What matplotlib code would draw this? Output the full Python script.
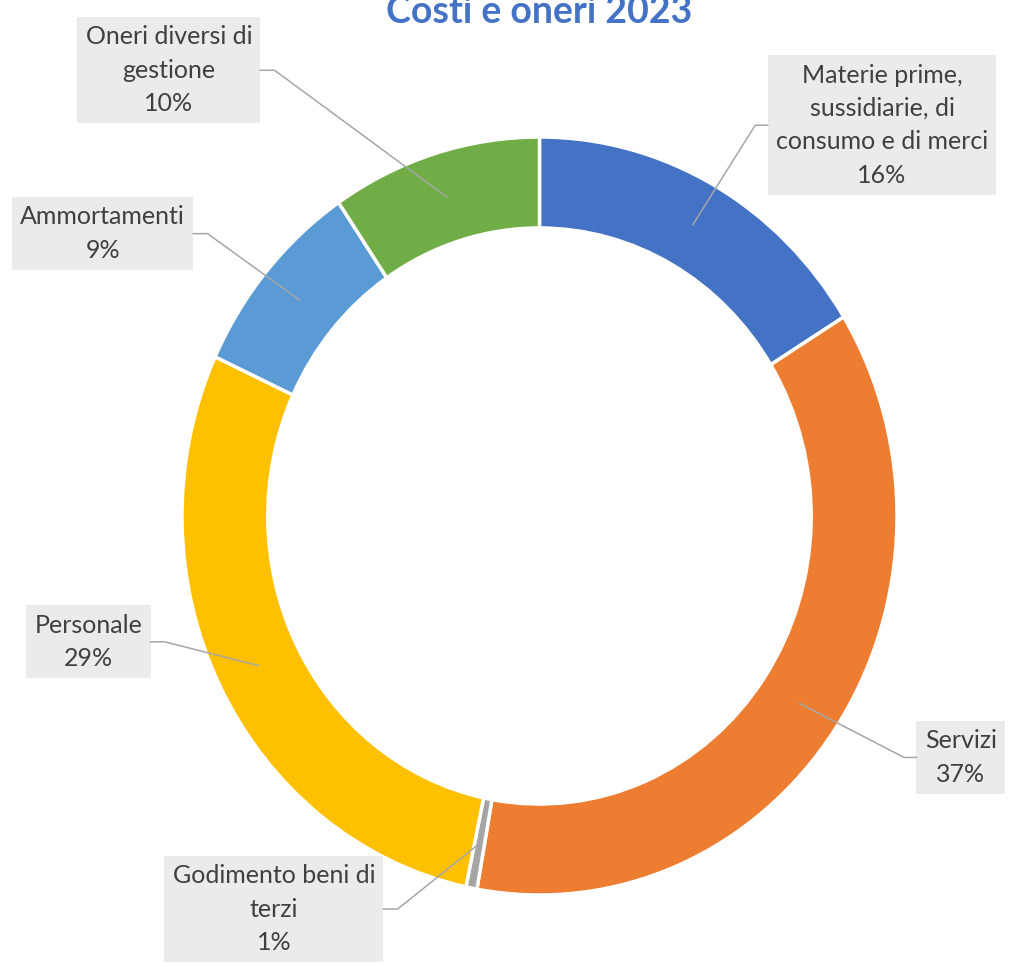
import numpy as np
import matplotlib
matplotlib.use("Agg")
import matplotlib.pyplot as plt

plt.rcParams['font.family'] = ['Lato', 'DejaVu Sans']

# data, clockwise from the top
categories = ["Materie prime,\nsussidiarie, di\nconsumo e di merci",
              "Servizi",
              "Godimento beni di\nterzi",
              "Personale",
              "Ammortamenti",
              "Oneri diversi di\ngestione"]
values = [16.2, 36.6, 0.5, 28.6, 8.6, 9.5]
colors = ["#4472C4", "#ED7D31", "#A5A5A5", "#FFC000", "#5B9BD5", "#70AD47"]

# label box centres (axes data coords) and side where the leader line leaves
label_pos = [(0.958, 1.031, "left"), (1.178, -0.637, "left"), (-0.743, -1.037, "right"),
             (-1.262, -0.332, "right"), (-1.222, 0.745, "right"), (-1.037, 1.176, "right")]

fig = plt.figure(figsize=(10.11, 9.63), dpi=100)
ax = fig.add_axes([182 / 1011, 68 / 963, 715 / 1011, 758 / 963])

wedges, _ = ax.pie(values, colors=colors, startangle=90, counterclock=False,
                   radius=1.0, wedgeprops=dict(width=0.24, edgecolor="white", linewidth=2.5))
ax.set_aspect("auto")
ax.set_xlim(-1, 1)
ax.set_ylim(-1, 1)
ax.axis("off")

total = sum(values)
labels = []
for w, cat, v, (lx, ly, side) in zip(wedges, categories, values, label_pos):
    pct = int(v / total * 100 + 0.5)
    t = ax.text(lx, ly, f"{cat}\n{pct}%", ha="center", va="center", multialignment="center",
                fontsize=18, color="#404040", linespacing=1.55, clip_on=False,
                bbox=dict(boxstyle="square,pad=0.33", facecolor="#EBEBEB", edgecolor="none"))
    ang = np.deg2rad((w.theta1 + w.theta2) / 2)
    labels.append((t, 0.88 * np.cos(ang), 0.88 * np.sin(ang), side))

fig.canvas.draw()
inv = ax.transData.inverted()
for t, px, py, side in labels:
    bb = t.get_bbox_patch().get_window_extent()
    (x0, y0), (x1, y1) = inv.transform([[bb.x0, bb.y0], [bb.x1, bb.y1]])
    ym = (y0 + y1) / 2
    if side == "left":
        xs = [x0, x0 - 0.035, px]
    else:
        xs = [x1, x1 + 0.04, px]
    ax.plot(xs, [ym, ym, py], color="#A6A6A6", linewidth=1.1, clip_on=False, zorder=3)

fig.text(0.533, 1 - 23 / 963, "Costi e oneri 2023", ha="center", va="baseline",
         fontsize=27, fontweight="bold", color="#4472C4")

fig.savefig("out.png", dpi=100)
